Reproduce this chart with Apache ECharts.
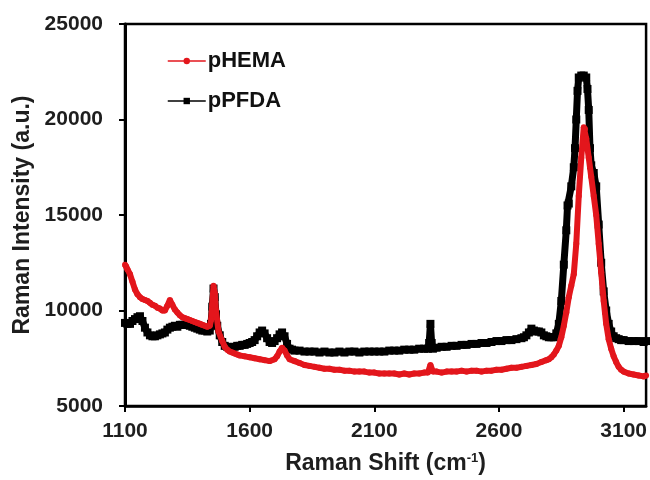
<!DOCTYPE html>
<html>
<head>
<meta charset="utf-8">
<script src="https://cdn.jsdelivr.net/npm/echarts@6/dist/echarts.min.js"></script>
<style>
  html, body { margin: 0; padding: 0; background: #fff; }
  #chart { width: 650px; height: 480px; }
</style>
</head>
<body>
<div id="chart"></div>
<script>
// Raman spectra of the two polymer coatings
const seriesNames = ['pHEMA', 'pPFDA'];

const shiftHEMA = [
  1100, 1105, 1110, 1120, 1130, 1140, 1150, 1160, 1170, 1180, 1190, 1200, 1210, 1220, 1230, 1240,
  1250, 1260, 1270, 1280, 1290, 1300, 1310, 1320, 1330, 1340, 1350, 1360, 1370, 1380, 1390, 1400,
  1410, 1420, 1430, 1440, 1445, 1450, 1455, 1460, 1465, 1475, 1490, 1500, 1510, 1520, 1530, 1540,
  1550, 1560, 1580, 1600, 1620, 1640, 1660, 1680, 1700, 1710, 1720, 1730, 1740, 1750, 1760, 1780,
  1800, 1820, 1840, 1860, 1880, 1900, 1920, 1940, 1960, 1980, 2000, 2020, 2040, 2060, 2080, 2100,
  2120, 2140, 2160, 2180, 2200, 2220, 2240, 2260, 2280, 2300, 2315, 2325, 2335, 2350, 2370, 2390,
  2410, 2430, 2450, 2470, 2490, 2510, 2530, 2550, 2570, 2590, 2610, 2630, 2650, 2670, 2690, 2710,
  2730, 2750, 2770, 2790, 2800, 2810, 2820, 2830, 2840, 2850, 2860, 2870, 2880, 2890, 2900, 2910,
  2920, 2930, 2940, 2945, 2950, 2960, 2970, 2980, 2990, 3000, 3010, 3020, 3030, 3040, 3050, 3060,
  3070, 3080, 3090, 3100, 3120, 3140, 3160, 3180, 3190
];
const intensityHEMA = [
  12400, 12300, 12150, 11900, 11500, 11100, 10850, 10700, 10600, 10550, 10500, 10400, 10300, 10250, 10150, 10100,
  10000, 10000, 10250, 10550, 10300, 10050, 9900, 9750, 9650, 9600, 9550, 9500, 9450, 9400, 9350, 9300,
  9250, 9200, 9150, 9200, 9500, 10300, 11300, 10900, 10000, 8900, 8400, 8100, 7950, 7850, 7800, 7750,
  7700, 7650, 7600, 7550, 7500, 7450, 7400, 7350, 7450, 7600, 7850, 8050, 7900, 7650, 7450, 7350,
  7250, 7150, 7100, 7050, 7000, 6950, 6950, 6900, 6900, 6850, 6850, 6800, 6800, 6800, 6750, 6750,
  6700, 6700, 6700, 6700, 6650, 6700, 6650, 6700, 6700, 6750, 6750, 7150, 6800, 6800, 6750, 6800,
  6800, 6800, 6850, 6800, 6850, 6850, 6800, 6850, 6850, 6900, 6900, 6950, 7000, 7000, 7050, 7100,
  7150, 7200, 7300, 7400, 7450, 7550, 7700, 7900, 8150, 8600, 9200, 9900, 10700, 11300, 11900, 13500,
  16000, 18000, 19600, 19500, 19000, 18000, 17000, 16000, 15000, 13500, 12000, 10500, 9300, 8500, 8000, 7600,
  7300, 7050, 6900, 6800, 6700, 6650, 6600, 6550, 6600
];

const shiftPFDA = [
  1100, 1110, 1120, 1130, 1140, 1150, 1160, 1170, 1180, 1190, 1200, 1210, 1220, 1230, 1240, 1250,
  1260, 1270, 1280, 1290, 1300, 1310, 1320, 1330, 1340, 1350, 1360, 1370, 1380, 1390, 1400, 1410,
  1420, 1430, 1440, 1445, 1450, 1455, 1460, 1465, 1470, 1480, 1490, 1500, 1510, 1520, 1530, 1540,
  1550, 1560, 1570, 1580, 1590, 1600, 1610, 1620, 1630, 1640, 1650, 1660, 1670, 1680, 1690, 1700,
  1710, 1720, 1730, 1740, 1750, 1760, 1770, 1780, 1800, 1820, 1840, 1860, 1880, 1900, 1920, 1940,
  1960, 1980, 2000, 2020, 2040, 2060, 2080, 2100, 2120, 2140, 2160, 2180, 2200, 2220, 2240, 2260,
  2280, 2300, 2315, 2320, 2325, 2330, 2335, 2350, 2370, 2390, 2410, 2430, 2450, 2470, 2490, 2510,
  2530, 2550, 2570, 2590, 2610, 2630, 2650, 2670, 2690, 2700, 2710, 2720, 2730, 2740, 2750, 2760,
  2770, 2780, 2790, 2800, 2810, 2820, 2830, 2840, 2850, 2860, 2870, 2875, 2880, 2890, 2900, 2905,
  2910, 2915, 2920, 2930, 2940, 2950, 2955, 2960, 2965, 2970, 2980, 2990, 3000, 3010, 3020, 3030,
  3040, 3050, 3060, 3070, 3080, 3090, 3100, 3120, 3140, 3160, 3180, 3190
];
const intensityPFDA = [
  9350, 9300, 9300, 9450, 9550, 9650, 9700, 9450, 9100, 8850, 8700, 8650, 8650, 8700, 8750, 8800,
  8850, 9000, 9100, 9150, 9200, 9150, 9250, 9250, 9250, 9250, 9200, 9150, 9100, 9050, 9000, 8950,
  8950, 8900, 8950, 9300, 10200, 11150, 10700, 9800, 9200, 8700, 8350, 8150, 8100, 8050, 8050, 8100,
  8150, 8150, 8200, 8200, 8250, 8300, 8350, 8450, 8650, 8850, 8950, 8800, 8550, 8350, 8300, 8400,
  8550, 8750, 8850, 8650, 8250, 8000, 7950, 7900, 7900, 7850, 7850, 7850, 7800, 7850, 7800, 7800,
  7850, 7800, 7850, 7850, 7800, 7850, 7850, 7850, 7850, 7850, 7900, 7900, 7900, 7950, 7950, 7950,
  8000, 8000, 8000, 8300, 9300, 8300, 8000, 8050, 8100, 8100, 8150, 8150, 8200, 8200, 8250, 8250,
  8300, 8300, 8350, 8400, 8400, 8450, 8450, 8500, 8550, 8600, 8700, 8850, 9050, 8950, 8900, 8900,
  8850, 8700, 8650, 8600, 8600, 8600, 8800, 9300, 10500, 12400, 14200, 15500, 15600, 16500, 17500, 18500,
  20000, 21500, 22200, 22300, 22300, 22200, 21600, 20500, 18500, 17600, 17200, 16500, 14500, 12500, 11000, 10000,
  9300, 8900, 8650, 8550, 8500, 8450, 8450, 8400, 8400, 8400, 8350, 8400
];

const xTicks = { min: 1100, max: 3190, step: 500 };
const yTicks = { min: 5000, max: 25000, step: 5000 };

function pairs(xs, ys) {
  return xs.map((x, i) => [x, ys[i]]);
}

const chart = echarts.init(document.getElementById('chart'), null, { renderer: 'canvas' });

const font = {
  fontFamily: 'Liberation Sans, Arial, sans-serif',
  fontWeight: 'bold',
  color: '#1e1e1e'
};

chart.setOption({
  animation: false,
  backgroundColor: '#fff',
  grid: {
    left: 125, right: 2, top: 24, bottom: 67,
    show: true, borderColor: '#000', borderWidth: 2.5, backgroundColor: 'transparent'
  },
  legend: {
    left: 162, top: 45, orient: 'vertical', itemGap: 18,
    itemWidth: 38, itemHeight: 8,
    data: seriesNames,
    lineStyle: { width: 1.5 },
    textStyle: Object.assign({}, font, { fontSize: 22, color: '#111', padding: [0, 0, 0, -3] })
  },
  xAxis: {
    type: 'value',
    min: xTicks.min, max: xTicks.max, interval: xTicks.step,
    name: 'Raman Shift (cm{sup|-1})',
    nameLocation: 'middle', nameGap: 46,
    nameTextStyle: Object.assign({}, font, {
      fontSize: 23,
      rich: { sup: Object.assign({}, font, { fontSize: 13, verticalAlign: 'top', padding: [0, 0, 10, 0] }) }
    }),
    axisLine: { lineStyle: { color: '#000', width: 2.5 } },
    axisTick: { show: true, inside: false, length: 6, lineStyle: { color: '#000', width: 2 } },
    axisLabel: Object.assign({}, font, {
      fontSize: 21, margin: 15, showMaxLabel: false,
      formatter: v => String(v)
    }),
    splitLine: { show: false }
  },
  yAxis: {
    type: 'value',
    min: yTicks.min, max: yTicks.max, interval: yTicks.step,
    name: 'Raman Intensity (a.u.)',
    nameLocation: 'middle', nameGap: 89, nameRotate: 90,
    nameTextStyle: Object.assign({}, font, { fontSize: 23 }),
    axisLine: { show: true, lineStyle: { color: '#000', width: 3 } },
    axisTick: { show: true, inside: false, length: 6, lineStyle: { color: '#000', width: 2 } },
    axisLabel: Object.assign({}, font, {
      fontSize: 21, margin: 22,
      formatter: v => String(v)
    }),
    splitLine: { show: false }
  },
  series: [
    {
      name: 'pPFDA',
      type: 'line',
      data: pairs(shiftPFDA, intensityPFDA),
      symbol: 'rect', symbolSize: 8, showAllSymbol: true,
      itemStyle: { color: '#000' },
      lineStyle: { color: '#000', width: 7 },
      z: 2
    },
    {
      name: 'pHEMA',
      type: 'line',
      data: pairs(shiftHEMA, intensityHEMA),
      symbol: 'circle', symbolSize: 6, showAllSymbol: true,
      itemStyle: { color: '#e3161c' },
      lineStyle: { color: '#e3161c', width: 6 },
      z: 3
    }
  ]
});
</script>
</body>
</html>
